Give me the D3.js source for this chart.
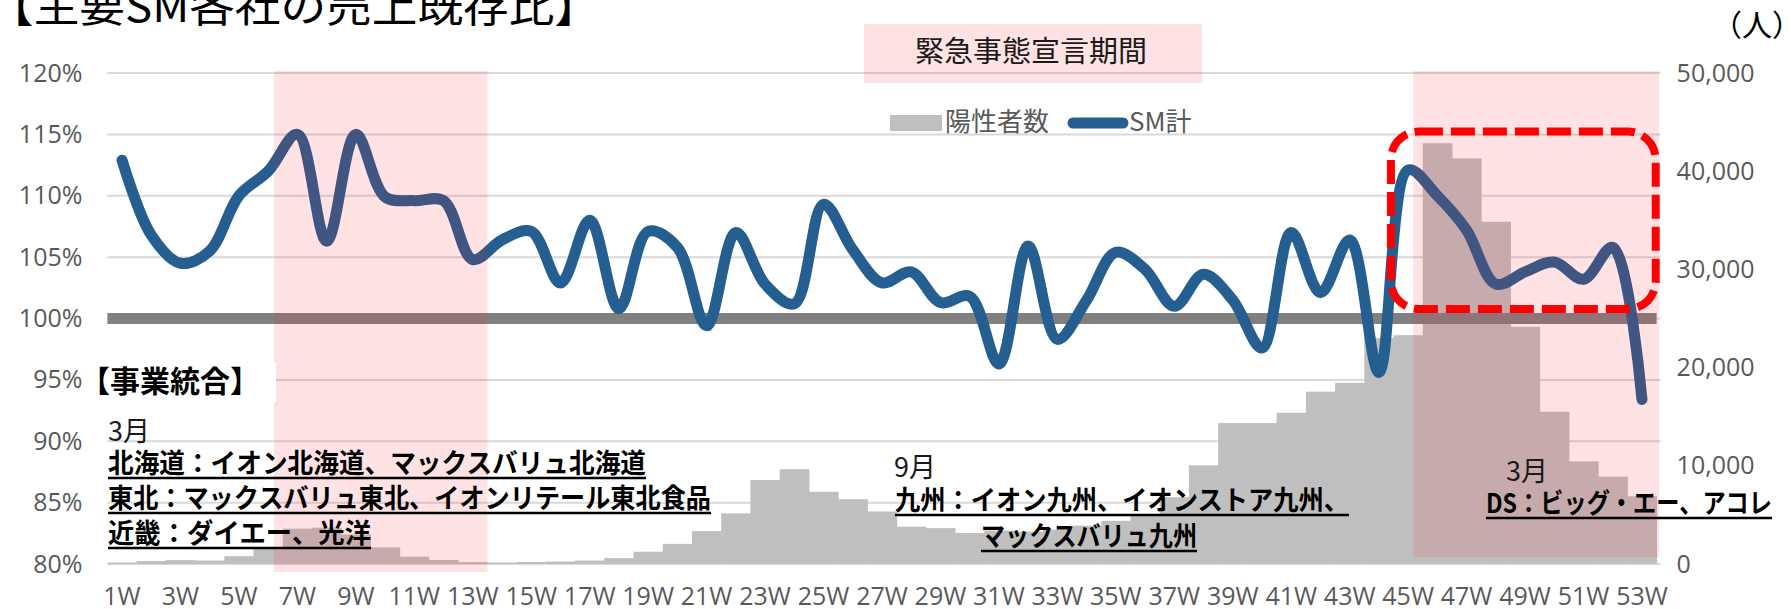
<!DOCTYPE html>
<html>
<head>
<meta charset="utf-8">
<script src="https://cdn.jsdelivr.net/npm/d3@7"></script>
<style>
  body { margin: 0; background: #fff; }
  svg text { font-family: "Open Sans", "Noto Sans CJK JP", sans-serif; }
  .jp { font-family: "Noto Sans CJK JP", sans-serif; }
</style>
</head>
<body>
<svg id="svg" width="1791" height="609"></svg>
<script>
const weeks = d3.range(1, 54).map(d => d + 'W')

// SM計 (既存比)
const smTotal = [
  1.129, 1.068, 1.045, 1.055, 1.100, 1.120, 1.150, 1.063, 1.150, 1.099,
  1.096, 1.096, 1.048, 1.064, 1.071, 1.029, 1.080, 1.008, 1.071, 1.058,
  0.994, 1.070, 1.028, 1.012, 1.093, 1.056, 1.029, 1.038, 1.013, 1.018,
  0.963, 1.059, 0.983, 1.015, 1.054, 1.040, 1.010, 1.036, 1.015, 0.976,
  1.070, 1.021, 1.064, 0.956, 1.121, 1.100, 1.072, 1.028, 1.038, 1.046,
  1.032, 1.058, 0.934
]

// 陽性者数 (人)
const positives = [
  150, 300, 400, 350, 800, 1700, 3600, 3700, 3000, 1700,
  750, 400, 200, 150, 200, 250, 350, 600, 1250, 2050,
  3350, 5150, 8550, 9650, 7350, 6600, 5350, 3800, 3650, 3150,
  3400, 3300, 3500, 3900, 4400, 5000, 6800, 10050, 14350, 14350,
  15400, 17550, 18450, 23000, 23300, 42850, 41300, 34850, 24150, 15500,
  10450, 8900, 6900
]

const pctTicks = [0.80, 0.85, 0.90, 0.95, 1.00, 1.05, 1.10, 1.15, 1.20]
const countTicks = [0, 10000, 20000, 30000, 40000, 50000]
const weekTicks = weeks.filter((d, i) => i % 2 === 0)

// 緊急事態宣言期間 (week units from start of 1W, left-axis ratio units)
const emergency = [
  {from: 5.7, to: 13.0, top: 1.2016, low: 0.7935},
  {from: 44.67, to: 53.08, top: 1.2016, low: 0.8057}
]

// red dashed highlight box
const highlight = {from: 43.91, to: 52.97, top: 1.1523, low: 1.0077}

const notes = [
  {text: '3月', x: 108, y: 441},
  {text: '北海道：イオン北海道、マックスバリュ北海道', x: 108, y: 473, len: 538, bold: true},
  {text: '東北：マックスバリュ東北、イオンリテール東北食品', x: 108, y: 508, len: 603, bold: true},
  {text: '近畿：ダイエー、光洋', x: 108, y: 543, len: 263, bold: true},
  {text: '9月', x: 894, y: 477},
  {text: '九州：イオン九州、イオンストア九州、', x: 895, y: 510, len: 454, bold: true},
  {text: 'マックスバリュ九州', x: 981, y: 546, len: 216, bold: true},
  {text: '3月', x: 1506, y: 481},
  {text: 'DS：ビッグ・エー、アコレ', x: 1486, y: 513, len: 286, bold: true}
]

const svg = d3.select('#svg')
const plotL = 107.4, plotR = 1656.6, plotT = 73, plotB = 564
const pink = '#ff1e28'

const x = d3.scaleBand().domain(weeks).range([plotL, plotR])
const xw = d3.scaleLinear().domain([0, weeks.length]).range([plotL, plotR])
const yL = d3.scaleLinear().domain([0.8, 1.2]).range([plotB, plotT])
const yR = d3.scaleLinear().domain([0, 50000]).range([plotB, plotT])

// gridlines
svg.append('g')
  .selectAll('line')
  .data(pctTicks)
  .enter()
  .append('line')
  .attr('x1', plotL)
  .attr('x2', plotR + 4)
  .attr('y1', d => yL(d))
  .attr('y2', d => yL(d))
  .attr('stroke', '#d9d9d9')
  .attr('stroke-width', 2)

// bars
svg.append('g')
  .selectAll('rect')
  .data(positives)
  .enter()
  .append('rect')
  .attr('x', (d, i) => x(weeks[i]))
  .attr('width', x.bandwidth() + 0.5)
  .attr('y', d => yR(d))
  .attr('height', d => plotB - yR(d))
  .attr('fill', '#bfbfbf')

// 100% line
svg.append('line')
  .attr('x1', plotL)
  .attr('x2', plotR)
  .attr('y1', yL(1))
  .attr('y2', yL(1))
  .attr('stroke', '#808080')
  .attr('stroke-width', 11)

// SM計 line
const line = d3.line()
  .x((d, i) => x(weeks[i]) + x.bandwidth() / 2)
  .y(d => yL(d))
  .curve(d3.curveCatmullRom)

svg.append('path')
  .datum(smTotal)
  .attr('d', line)
  .attr('fill', 'none')
  .attr('stroke', '#255e91')
  .attr('stroke-width', 11)
  .attr('stroke-linecap', 'round')
  .attr('stroke-linejoin', 'round')

// emergency periods
svg.append('g')
  .selectAll('rect')
  .data(emergency)
  .enter()
  .append('rect')
  .attr('x', d => xw(d.from))
  .attr('width', d => xw(d.to) - xw(d.from))
  .attr('y', d => yL(d.top))
  .attr('height', d => yL(d.low) - yL(d.top))
  .attr('fill', pink)
  .attr('fill-opacity', 0.13)

// 【事業統合】 box
svg.append('rect')
  .attr('x', 88).attr('y', 362).attr('width', 188).attr('height', 40)
  .attr('fill', '#fff')
svg.append('text')
  .attr('class', 'jp')
  .attr('x', 80).attr('y', 392)
  .attr('font-size', 30).attr('font-weight', 'bold')
  .attr('fill', '#000')
  .text('【事業統合】')

// notes
const noteG = svg.append('g')
notes.forEach(n => {
  const t = noteG.append('text')
    .attr('class', 'jp')
    .attr('x', n.x).attr('y', n.y)
    .attr('font-size', 27)
    .attr('font-weight', n.bold ? 'bold' : 'normal')
    .attr('fill', n.bold ? '#000' : '#1a1a1a')
    .text(n.text)
  if (n.len) {
    t.attr('textLength', n.len).attr('lengthAdjust', 'spacingAndGlyphs')
    noteG.append('line')
      .attr('x1', n.x).attr('x2', n.x + n.len)
      .attr('y1', n.y + 5).attr('y2', n.y + 5)
      .attr('stroke', '#000').attr('stroke-width', 2.5)
  }
})

// highlight box
svg.append('rect')
  .attr('x', xw(highlight.from))
  .attr('width', xw(highlight.to) - xw(highlight.from))
  .attr('y', yL(highlight.top))
  .attr('height', yL(highlight.low) - yL(highlight.top))
  .attr('rx', 28).attr('ry', 28)
  .attr('fill', 'none')
  .attr('stroke', '#ff0000')
  .attr('stroke-width', 8)
  .attr('stroke-dasharray', '24 8')

// axes
const axisStyle = g => {
  g.select('.domain').remove()
  g.selectAll('text').attr('font-size', 25).attr('fill', '#595959')
    .style('font-family', '"Open Sans", sans-serif')
}

svg.append('g')
  .attr('transform', `translate(${plotL},0)`)
  .call(d3.axisLeft(yL).tickValues(pctTicks).tickFormat(d3.format('.0%')).tickSize(0).tickPadding(25))
  .call(axisStyle)

svg.append('g')
  .attr('transform', `translate(${plotR},0)`)
  .call(d3.axisRight(yR).tickValues(countTicks).tickFormat(d3.format(',')).tickSize(0).tickPadding(20))
  .call(axisStyle)

svg.append('g')
  .attr('transform', `translate(0,${plotB})`)
  .call(d3.axisBottom(x).tickValues(weekTicks).tickSize(0).tickPadding(23))
  .call(axisStyle)

// legend: emergency period
svg.append('rect')
  .attr('x', 864).attr('y', 24).attr('width', 338).attr('height', 59)
  .attr('fill', pink).attr('fill-opacity', 0.13)
svg.append('text')
  .attr('class', 'jp')
  .attr('x', 1031).attr('y', 62)
  .attr('text-anchor', 'middle')
  .attr('font-size', 29)
  .attr('fill', '#1a1a1a')
  .text('緊急事態宣言期間')

// legend: series
svg.append('rect')
  .attr('x', 890).attr('y', 115).attr('width', 52).attr('height', 16)
  .attr('fill', '#bfbfbf')
svg.append('text')
  .attr('class', 'jp')
  .attr('x', 945).attr('y', 131)
  .attr('font-size', 26).attr('fill', '#595959')
  .text('陽性者数')
svg.append('line')
  .attr('x1', 1073).attr('x2', 1123).attr('y1', 123).attr('y2', 123)
  .attr('stroke', '#255e91').attr('stroke-width', 11).attr('stroke-linecap', 'round')
svg.append('text')
  .attr('class', 'jp')
  .attr('x', 1129).attr('y', 131)
  .attr('font-size', 26).attr('fill', '#595959')
  .text('SM計')

// title and unit
svg.append('text')
  .attr('class', 'jp')
  .attr('x', -12).attr('y', 22)
  .attr('font-size', 42)
  .attr('fill', '#000')
  .attr('textLength', 612).attr('lengthAdjust', 'spacingAndGlyphs')
  .text('【主要SM各社の売上既存比】')

svg.append('text')
  .attr('class', 'jp')
  .attr('x', 1712).attr('y', 36)
  .attr('font-size', 30)
  .attr('fill', '#000')
  .text('（人）')
</script>
</body>
</html>
